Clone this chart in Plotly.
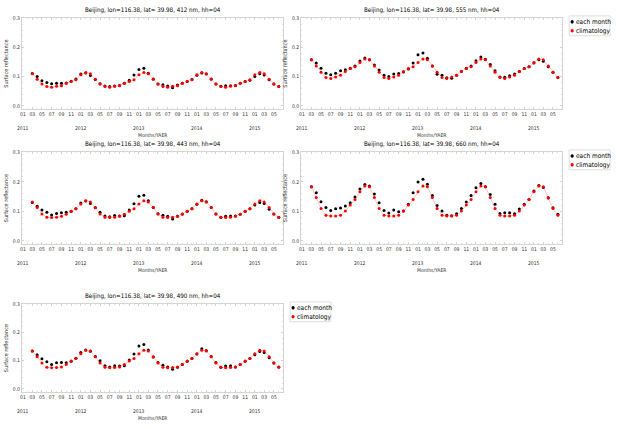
import plotly.graph_objects as go
import pandas as pd

W, H = 621, 429

# ---------------- data ----------------
months = pd.date_range("2011-03-01", "2015-06-01", freq="MS")          # 52 monthly samples
tick_dates = pd.date_range("2011-01-01", "2015-05-01", freq="2MS")
tick_labels = [d.strftime("%m") for d in tick_dates]
year_labels = ["2011", "2012", "2013", "2014", "2015"]
year_dates = ["2011-01-01", "2012-01-01", "2013-01-01", "2014-01-01", "2015-01-01"]
y_ticks = [0.0, 0.1, 0.2, 0.3]
y_tick_labels = ["0.0", "0.1", "0.2", "0.3"]

# climatology: one value per calendar month (Jan..Dec)
clim_412 = [0.107, 0.114, 0.110, 0.091, 0.075, 0.066, 0.064, 0.067, 0.069, 0.077, 0.083, 0.089]
clim_555 = [0.149, 0.161, 0.158, 0.137, 0.115, 0.097, 0.094, 0.099, 0.105, 0.118, 0.128, 0.134]
clim_443 = [0.125, 0.136, 0.132, 0.113, 0.091, 0.080, 0.079, 0.080, 0.083, 0.090, 0.100, 0.109]
clim_660 = [0.167, 0.186, 0.184, 0.147, 0.110, 0.087, 0.084, 0.084, 0.087, 0.101, 0.122, 0.140]
clim_490 = [0.125, 0.137, 0.135, 0.114, 0.092, 0.077, 0.075, 0.076, 0.078, 0.087, 0.099, 0.108]

# each month: Mar 2011 .. Jun 2015
each_412 = [0.111, 0.101, 0.086, 0.080, 0.076, 0.077, 0.077, 0.078, 0.084, 0.092,
            0.109, 0.113, 0.104, 0.090, 0.076, 0.068, 0.066, 0.068, 0.070, 0.077, 0.088, 0.106,
            0.125, 0.129, 0.112, 0.092, 0.075, 0.072, 0.068, 0.062, 0.071, 0.077, 0.083, 0.090,
            0.105, 0.113, 0.109, 0.092, 0.075, 0.067, 0.069, 0.069, 0.070, 0.077, 0.083, 0.088,
            0.101, 0.110, 0.106, 0.089, 0.075, 0.066]
each_555 = [0.158, 0.147, 0.129, 0.112, 0.107, 0.112, 0.120, 0.124, 0.129, 0.137,
            0.154, 0.164, 0.158, 0.140, 0.123, 0.105, 0.101, 0.109, 0.111, 0.116, 0.126, 0.147,
            0.175, 0.181, 0.163, 0.137, 0.108, 0.105, 0.096, 0.095, 0.105, 0.118, 0.129, 0.137,
            0.155, 0.168, 0.160, 0.142, 0.120, 0.099, 0.098, 0.103, 0.109, 0.118, 0.128, 0.134,
            0.147, 0.158, 0.153, 0.134, 0.115, 0.097]
each_443 = [0.130, 0.117, 0.105, 0.097, 0.088, 0.093, 0.095, 0.097, 0.100, 0.109,
            0.128, 0.135, 0.127, 0.112, 0.097, 0.084, 0.082, 0.086, 0.084, 0.085, 0.105, 0.126,
            0.151, 0.155, 0.136, 0.113, 0.092, 0.087, 0.083, 0.074, 0.083, 0.091, 0.100, 0.109,
            0.124, 0.138, 0.133, 0.113, 0.091, 0.080, 0.083, 0.084, 0.084, 0.090, 0.100, 0.109,
            0.122, 0.130, 0.127, 0.107, 0.091, 0.080]
each_660 = [0.184, 0.163, 0.133, 0.113, 0.103, 0.109, 0.111, 0.118, 0.129, 0.149,
            0.176, 0.191, 0.186, 0.159, 0.129, 0.103, 0.094, 0.105, 0.099, 0.101, 0.124, 0.163,
            0.200, 0.209, 0.192, 0.154, 0.120, 0.101, 0.087, 0.085, 0.092, 0.110, 0.132, 0.154,
            0.180, 0.195, 0.184, 0.157, 0.124, 0.093, 0.095, 0.095, 0.092, 0.108, 0.124, 0.140,
            0.169, 0.188, 0.181, 0.145, 0.112, 0.090]
each_490 = [0.135, 0.121, 0.107, 0.096, 0.087, 0.093, 0.094, 0.093, 0.098, 0.109,
            0.129, 0.138, 0.134, 0.115, 0.100, 0.082, 0.078, 0.082, 0.081, 0.082, 0.103, 0.124,
            0.152, 0.158, 0.138, 0.113, 0.094, 0.084, 0.078, 0.070, 0.077, 0.087, 0.098, 0.108,
            0.124, 0.143, 0.136, 0.115, 0.094, 0.077, 0.081, 0.082, 0.078, 0.087, 0.098, 0.108,
            0.121, 0.133, 0.129, 0.111, 0.092, 0.078]

wavelengths = ["412", "555", "443", "660", "490"]
each_series = [each_412, each_555, each_443, each_660, each_490]
clim_tables = [clim_412, clim_555, clim_443, clim_660, clim_490]
title_fmt = "Beijing, lon=116.38, lat= 39.98, {} nm, hh=04"

# ---------------- layout (pixel boxes) ----------------
# (left, right, top, bottom, has_legend)
boxes = [
    (20, 282, 15, 107, False),
    (300, 562, 15, 107, True),
    (20, 282, 150, 243, False),
    (300, 562, 150, 243, True),
    (20, 282, 303, 392, True),
]

FONT = "DejaVu Sans Condensed, Liberation Sans Narrow, sans-serif"


def px(x):
    return x / W


def py(y):
    return 1 - y / H


fig = go.Figure()
annotations = []
shapes = []

for i, (wl, each, clim, box) in enumerate(zip(wavelengths, each_series, clim_tables, boxes), start=1):
    left, right, top, bottom, has_leg = box
    xa = "x" if i == 1 else f"x{i}"
    ya = "y" if i == 1 else f"y{i}"
    clim_vals = [clim[d.month - 1] for d in months]

    fig.add_trace(go.Scatter(
        x=months, y=each, mode="markers", name="each month",
        marker=dict(color="black", size=3.0, symbol="circle"),
        xaxis=xa, yaxis=ya, showlegend=False, hoverinfo="x+y"))
    fig.add_trace(go.Scatter(
        x=months, y=clim_vals, mode="lines+markers", name="climatology",
        line=dict(color="rgba(235,90,90,0.45)", width=0.8),
        marker=dict(color="red", size=3.0, symbol="circle"),
        xaxis=xa, yaxis=ya, showlegend=False, hoverinfo="x+y"))

    axis_common = dict(showline=True, linecolor="#d4d4d4", linewidth=1, mirror="allticks",
                       showgrid=False, zeroline=False, ticks="inside", ticklen=2,
                       tickcolor="#d4d4d4", tickwidth=1,
                       tickfont=dict(family=FONT, size=5, color="#333"))
    fig.update_layout({
        ("xaxis" if i == 1 else f"xaxis{i}"): dict(
            axis_common, type="date", domain=[px(left), px(right)],
            anchor=ya, range=["2010-12-26", "2015-06-28"],
            tickmode="array", tickvals=list(tick_dates), ticktext=tick_labels,
            minor=dict(dtick="M1", ticks="inside", ticklen=1.2, tickcolor="#e0e0e0")),
        ("yaxis" if i == 1 else f"yaxis{i}"): dict(
            axis_common, domain=[py(bottom), py(top)], anchor=xa,
            range=[-0.012, 0.302], tickmode="array", tickvals=y_ticks, ticktext=y_tick_labels,
            minor=dict(dtick=0.02, ticks="inside", ticklen=1.2, tickcolor="#e0e0e0"),
            title=dict(text="Surface reflectance", font=dict(family=FONT, size=5.5, color="#333"),
                       standoff=3)),
    })

    cx = (left + right) / 2
    # panel title
    annotations.append(dict(text=title_fmt.format(wl), xref="paper", yref="paper",
                            x=px(cx), y=py(top - 8), showarrow=False,
                            font=dict(family=FONT, size=6.2, color="black"),
                            xanchor="center", yanchor="middle"))
    # year labels
    for yd, yl in zip(year_dates, year_labels):
        annotations.append(dict(text=yl, xref=xa, yref="paper", x=yd, y=py(bottom + 19),
                                showarrow=False, font=dict(family=FONT, size=5, color="#333"),
                                xanchor="center", yanchor="middle"))
    # x axis title
    annotations.append(dict(text="Months/YAER", xref="paper", yref="paper",
                            x=px(cx), y=py(bottom + 26), showarrow=False,
                            font=dict(family=FONT, size=5, color="#333"),
                            xanchor="center", yanchor="middle"))

    if has_leg:
        lx0, lx1 = right + 7, right + 48
        ly0, ly1 = top - 2, top + 18
        shapes.append(dict(type="rect", xref="paper", yref="paper",
                           x0=px(lx0), x1=px(lx1), y0=py(ly1), y1=py(ly0),
                           line=dict(color="#dedede", width=1), fillcolor="white", layer="above"))
        for k, (lab, col) in enumerate([("each month", "black"), ("climatology", "red")]):
            yc = top + 4 + k * 9
            mx = lx0 + 3
            shapes.append(dict(type="circle", xref="paper", yref="paper",
                               x0=px(mx - 1.6), x1=px(mx + 1.6), y0=py(yc + 1.8), y1=py(yc - 1.8),
                               line=dict(width=0), fillcolor=col, layer="above"))
            annotations.append(dict(text=lab, xref="paper", yref="paper", x=px(mx + 1.5), y=py(yc),
                                    showarrow=False, xanchor="left", yanchor="middle",
                                    font=dict(family=FONT, size=6.5, color="black")))

fig.update_layout(width=W, height=H, margin=dict(l=0, r=0, t=0, b=0),
                  paper_bgcolor="white", plot_bgcolor="white",
                  annotations=annotations, shapes=shapes, showlegend=False,
                  font=dict(family=FONT))

fig.write_html("out.html", config={"displayModeBar": False},
               post_script="document.body.style.margin='0px';document.body.style.overflow='hidden';")
